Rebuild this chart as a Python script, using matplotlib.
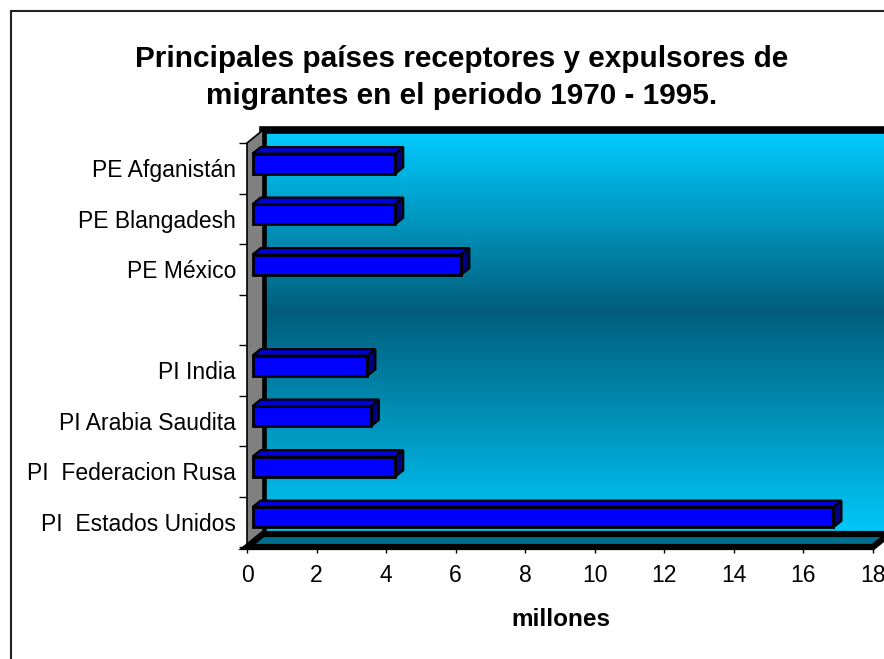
#!/usr/bin/env python3
import numpy as np
import matplotlib
matplotlib.use("Agg")
import matplotlib.pyplot as plt
from matplotlib.colors import LinearSegmentedColormap
from matplotlib.patches import Polygon, Rectangle

plt.rcParams["font.family"] = ["Liberation Sans", "DejaVu Sans"]

TITLE_LINES = ["Principales países receptores y expulsores de",
               "migrantes en el periodo 1970 - 1995."]
CATEGORIES = ["PE Afganistán", "PE Blangadesh", "PE México", "",
              "PI India", "PI Arabia Saudita", "PI  Federacion Rusa",
              "PI  Estados Unidos"]
VALUES = [4.1, 4.1, 6.0, None, 3.3, 3.4, 4.1, 16.7]
X_TICKS = list(range(0, 19, 2))
X_LABEL = "millones"

DPI = 100
DX, DY = 16, 13          # depth offset of back wall, pixels
BAR_D0, BAR_D1 = 0.35, 0.85
BAR_HALF = 0.2

fig = plt.figure(figsize=(8.84, 6.59), dpi=DPI)
ax = fig.add_axes([247 / 884, 1 - 547 / 659, 626 / 884, 404 / 659])
ax.set_facecolor("none")
for s in ax.spines.values():
    s.set_visible(False)

XMAX = 18
n = len(CATEGORIES)
ylo, yhi = n - 0.5, -0.5

kx = DX / (ax.bbox.width / XMAX)
ky = DY / (ax.bbox.height / n)


def proj(x, y, d):
    return (x + d * kx, y - d * ky)


# back wall gradient
cmap = LinearSegmentedColormap.from_list(
    "wall", [(0.0, "#00CCFF"), (0.45, "#005E7C"), (1.0, "#00C8FA")])
grad = np.linspace(0, 1, 256).reshape(-1, 1)
ax.imshow(grad, cmap=cmap, aspect="auto", origin="upper",
          extent=(kx, XMAX + 2, ylo - ky, yhi - ky),
          interpolation="bilinear", clip_on=False, zorder=0)

# back wall border (left + top)
bx, by_top = proj(0, yhi, 1)
_, by_bot = proj(0, ylo, 1)
ax.plot([bx, bx, XMAX + 2], [by_bot, by_top, by_top], color="black",
        lw=5.5, solid_joinstyle="miter", clip_on=False, zorder=1)

# left grey wall
wall = [proj(0, yhi, 0), proj(0, yhi, 1), proj(0, ylo, 1), proj(0, ylo, 0)]
ax.add_patch(Polygon(wall, closed=True, facecolor="#808080",
                     edgecolor="black", lw=1.2, clip_on=False, zorder=2))

# floor
floor = [proj(0, ylo, 0), proj(XMAX, ylo, 0), proj(XMAX, ylo, 1),
         proj(0, ylo, 1)]
ax.add_patch(Polygon(floor, closed=True, facecolor="#006E8C",
                     edgecolor="black", lw=4.5, joinstyle="miter",
                     clip_on=False, zorder=3))

# bars
for i, v in enumerate(VALUES):
    if v is None:
        continue
    top_y, bot_y = i - BAR_HALF, i + BAR_HALF
    top = [proj(0, top_y, BAR_D0), proj(v, top_y, BAR_D0),
           proj(v, top_y, BAR_D1), proj(0, top_y, BAR_D1)]
    side = [proj(v, top_y, BAR_D0), proj(v, bot_y, BAR_D0),
            proj(v, bot_y, BAR_D1), proj(v, top_y, BAR_D1)]
    front = [proj(0, top_y, BAR_D0), proj(v, top_y, BAR_D0),
             proj(v, bot_y, BAR_D0), proj(0, bot_y, BAR_D0)]
    ax.add_patch(Polygon(top, closed=True, facecolor="#0000D8",
                         edgecolor="black", lw=1.6, clip_on=False, zorder=4))
    ax.add_patch(Polygon(side, closed=True, facecolor="#000080",
                         edgecolor="black", lw=1.6, clip_on=False, zorder=4))
    ax.add_patch(Polygon(front, closed=True, facecolor="#0000FF",
                         edgecolor="black", lw=2.0, clip_on=False, zorder=5))

ax.set_xlim(0, XMAX)
ax.set_ylim(ylo, yhi)

# axes ticks
ax.set_xticks(X_TICKS, labels=[str(t) for t in X_TICKS])
ax.tick_params(axis="x", direction="out", length=4, width=1, pad=8,
               labelsize=16.5, colors="black")
ax.set_yticks(np.arange(-0.5, n, 1.0), labels=[""] * (n + 1))
ax.set_yticks(np.arange(n), labels=CATEGORIES, minor=True)
ax.tick_params(axis="y", which="major", direction="out", length=6, width=1)
ax.tick_params(axis="y", which="minor", length=0, pad=8, labelsize=16.5)

# titles
for k, line in enumerate(TITLE_LINES):
    fig.text(462 / 884, 1 - (67 + 37 * k) / 659, line, ha="center",
             va="baseline", fontsize=21.4, fontweight="bold")
fig.text(561 / 884, 1 - 620 / 659, X_LABEL, ha="center", va="center",
         fontsize=17.5, fontweight="bold")

# chart area border
fig.add_artist(Rectangle((11 / 884, -0.1), 1.2, 1.1 - 11 / 659,
                         transform=fig.transFigure, fill=False,
                         edgecolor="#222222", lw=1.5))

fig.savefig("out.png", dpi=DPI)
